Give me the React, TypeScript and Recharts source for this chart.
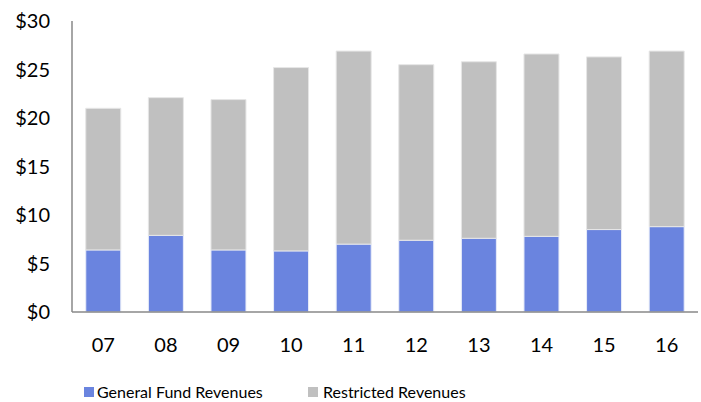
import React from 'react';
import { BarChart, Bar, XAxis, YAxis, Legend } from 'recharts';

const years = ['07', '08', '09', '10', '11', '12', '13', '14', '15', '16'];
const generalFund = [6.4, 7.9, 6.4, 6.3, 7.0, 7.4, 7.6, 7.8, 8.5, 8.8];
const restricted = [14.6, 14.2, 15.5, 18.9, 19.9, 18.1, 18.2, 18.8, 17.8, 18.1];
const yTicks = [0, 5, 10, 15, 20, 25, 30];

const data = years.map((year, i) => ({
    year,
    general: generalFund[i],
    restricted: restricted[i],
}));

const FONT = 'Lato, "Open Sans", sans-serif';

// legend drawn by hand so the swatches sit where the original puts them
const renderLegend = () => (
    <div style={{ position: 'relative', height: 20, fontFamily: FONT, fontSize: 16, color: '#000' }}>
        <div style={{ position: 'absolute', left: 84, top: 25, width: 10, height: 10, background: '#6A84DF' }} />
        <div style={{ position: 'absolute', left: 97, top: 20, whiteSpace: 'nowrap' }}>General Fund Revenues</div>
        <div style={{ position: 'absolute', left: 308, top: 25, width: 10, height: 10, background: '#C0C0C0' }} />
        <div style={{ position: 'absolute', left: 323, top: 20, whiteSpace: 'nowrap' }}>Restricted Revenues</div>
    </div>
);

export default function App() {
    return (
        <div style={{ position: 'absolute', left: 0, top: 0, width: 701, height: 402, background: '#fff' }}>
            <BarChart
                width={701}
                height={402}
                data={data}
                margin={{ top: 21, right: 3, left: 0, bottom: 0 }}
                barCategoryGap="22%"
            >
                <XAxis
                    dataKey="year"
                    stroke="#888"
                    strokeWidth={1.5}
                    tickLine={false}
                    height={50}
                    tickMargin={20}
                    tick={{ fill: '#000', fontSize: 20, fontFamily: FONT }}
                />
                <YAxis
                    domain={[0, 30]}
                    ticks={yTicks}
                    width={72}
                    stroke="#888"
                    strokeWidth={1.5}
                    tickLine={false}
                    tickSize={0}
                    tickMargin={22}
                    tickFormatter={(v) => '$' + v}
                    tick={{ fill: '#000', fontSize: 20, fontFamily: FONT }}
                />
                <Legend verticalAlign="bottom" align="left" height={40} content={renderLegend} />
                <Bar
                    dataKey="general"
                    stackId="a"
                    fill="#6A84DF"
                    stroke="#E8ECF8"
                    strokeWidth={1}
                    isAnimationActive={false}
                    name="General Fund Revenues"
                />
                <Bar
                    dataKey="restricted"
                    stackId="a"
                    fill="#C0C0C0"
                    stroke="#E6E6E6"
                    strokeWidth={1}
                    isAnimationActive={false}
                    name="Restricted Revenues"
                />
            </BarChart>
        </div>
    );
}
